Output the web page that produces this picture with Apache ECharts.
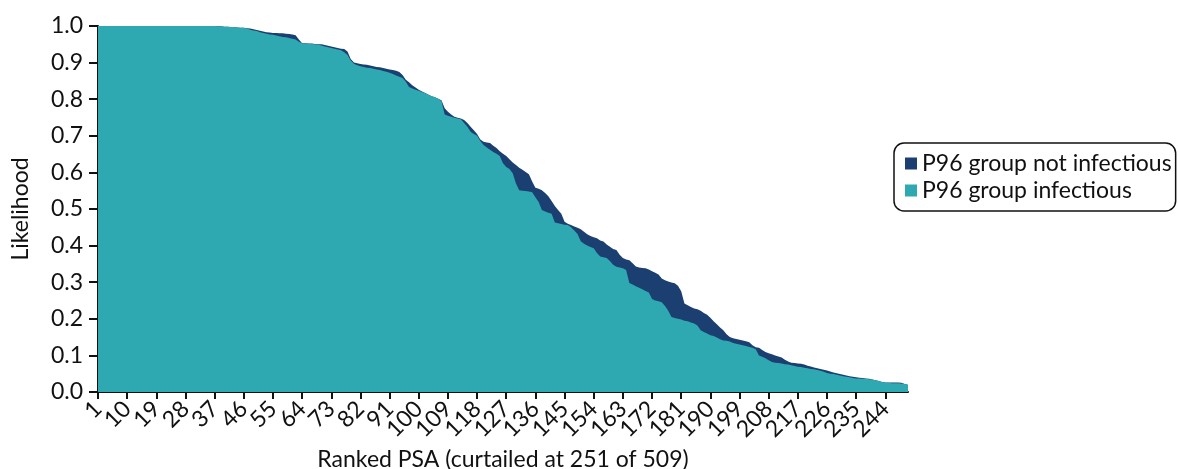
<!DOCTYPE html>
<html>
<head>
<meta charset="utf-8">
<script src="https://cdn.jsdelivr.net/npm/echarts@6/dist/echarts.min.js"></script>
<style>
  html, body { margin: 0; padding: 0; background: #fff; }
  #chart { width: 1178px; height: 469px; }
</style>
</head>
<body>
<div id="chart"></div>
<script>
// ranked PSA runs 1..251 (curtailed from 509)
const ranks = [];
for (let i = 1; i <= 251; i++) ranks.push(String(i));

const yTicks = [0, 0.1, 0.2, 0.3, 0.4, 0.5, 0.6, 0.7, 0.8, 0.9, 1.0];

// P96 group not infectious (upper curve)
const notInfectious = [
  1, 1, 1, 1, 1, 1, 1, 1, 1, 1,
  1, 1, 1, 1, 1, 1, 1, 1, 1, 1,
  1, 1, 1, 1, 1, 1, 1, 1, 1, 1,
  1, 1, 1, 1, 1, 1, 1,
  0.999, 0.999, 0.998, 0.998, 0.997, 0.997, 0.996, 0.995, 0.995,
  0.994, 0.993, 0.991, 0.989, 0.987, 0.985, 0.983, 0.982,
  0.981, 0.981, 0.980, 0.980, 0.979, 0.978, 0.977, 0.975, 0.963, 0.953,
  0.953, 0.952, 0.952, 0.951, 0.950, 0.950, 0.948, 0.946, 0.944,
  0.942, 0.940, 0.938, 0.937, 0.930, 0.910, 0.900, 0.898, 0.896,
  0.895, 0.894, 0.892, 0.890, 0.888, 0.887, 0.885, 0.883, 0.881,
  0.880, 0.878, 0.874, 0.866, 0.853, 0.846, 0.838, 0.832, 0.826,
  0.821, 0.817, 0.812, 0.808, 0.805, 0.801, 0.797, 0.775, 0.766,
  0.758, 0.752, 0.749, 0.747, 0.743, 0.735, 0.725, 0.715, 0.705,
  0.690, 0.684, 0.682, 0.680, 0.673, 0.667, 0.658, 0.651, 0.645,
  0.636, 0.627, 0.620, 0.613, 0.607, 0.601, 0.595, 0.575, 0.558,
  0.555, 0.551, 0.544, 0.535, 0.522, 0.508, 0.497, 0.487, 0.465,
  0.460, 0.456, 0.452, 0.449, 0.445, 0.438, 0.431, 0.426, 0.423,
  0.420, 0.414, 0.411, 0.403, 0.397, 0.391, 0.388, 0.375, 0.366,
  0.362, 0.360, 0.352, 0.343, 0.340, 0.339, 0.338, 0.335, 0.330,
  0.326, 0.321, 0.310, 0.305, 0.302, 0.299, 0.297, 0.290, 0.275,
  0.242, 0.237, 0.232, 0.228, 0.226, 0.222, 0.216, 0.211, 0.203,
  0.193, 0.185, 0.176, 0.169, 0.158, 0.150, 0.147, 0.145, 0.143,
  0.141, 0.139, 0.136, 0.128, 0.122, 0.121, 0.115, 0.109, 0.106,
  0.103, 0.100, 0.097, 0.094, 0.088, 0.083, 0.080, 0.079, 0.078,
  0.077, 0.075, 0.072, 0.070, 0.067, 0.065, 0.063, 0.061, 0.059,
  0.056, 0.053, 0.051, 0.049, 0.047, 0.045, 0.043, 0.042, 0.040,
  0.039, 0.038, 0.037, 0.036, 0.034, 0.032, 0.030, 0.027, 0.026,
  0.026, 0.026, 0.026, 0.026, 0.025, 0.022, 0.020
];

// P96 group infectious (lower curve)
const infectious = [
  1, 1, 1, 1, 1, 1, 1, 1, 1, 1,
  1, 1, 1, 1, 1, 1, 1, 1, 1, 1,
  1, 1, 1, 1, 1, 1, 1, 1, 1, 1,
  1, 1, 1, 1, 1, 1, 1,
  0.999, 0.999, 0.998, 0.998, 0.997, 0.997, 0.996, 0.995, 0.995,
  0.993, 0.990, 0.988, 0.986, 0.983, 0.981, 0.979, 0.977,
  0.976, 0.974, 0.972, 0.970, 0.969, 0.967, 0.965, 0.963, 0.957, 0.953,
  0.952, 0.951, 0.951, 0.950, 0.949, 0.947, 0.944, 0.942, 0.940,
  0.938, 0.936, 0.934, 0.928, 0.921, 0.906, 0.897, 0.893, 0.890,
  0.888, 0.886, 0.885, 0.883, 0.881, 0.880, 0.877, 0.875, 0.872,
  0.869, 0.865, 0.861, 0.858, 0.848, 0.833, 0.829, 0.826, 0.823,
  0.820, 0.816, 0.812, 0.808, 0.805, 0.801, 0.795, 0.758, 0.755,
  0.752, 0.749, 0.747, 0.745, 0.735, 0.725, 0.711, 0.705, 0.700,
  0.686, 0.675, 0.668, 0.662, 0.656, 0.651, 0.645, 0.625, 0.615,
  0.609, 0.598, 0.570, 0.551, 0.550, 0.549, 0.548, 0.546, 0.532,
  0.519, 0.497, 0.493, 0.490, 0.487, 0.463, 0.461, 0.459, 0.457,
  0.456, 0.450, 0.441, 0.432, 0.412, 0.405, 0.400, 0.396, 0.393,
  0.380, 0.370, 0.368, 0.366, 0.358, 0.348, 0.342, 0.340, 0.338,
  0.333, 0.298, 0.294, 0.289, 0.285, 0.281, 0.276, 0.272, 0.254,
  0.250, 0.248, 0.245, 0.235, 0.222, 0.205, 0.202, 0.200, 0.198,
  0.195, 0.193, 0.190, 0.187, 0.182, 0.169, 0.164, 0.160, 0.155,
  0.153, 0.149, 0.144, 0.141, 0.140, 0.138, 0.134, 0.132, 0.130,
  0.128, 0.126, 0.123, 0.121, 0.117, 0.100, 0.096, 0.092, 0.087,
  0.082, 0.080, 0.079, 0.078, 0.076, 0.075, 0.073, 0.071, 0.069,
  0.068, 0.066, 0.065, 0.063, 0.062, 0.060, 0.058, 0.055, 0.052,
  0.050, 0.049, 0.047, 0.045, 0.043, 0.042, 0.040, 0.038, 0.037,
  0.037, 0.036, 0.036, 0.035, 0.034, 0.032, 0.030, 0.027, 0.025,
  0.025, 0.024, 0.024, 0.024, 0.023, 0.022, 0.019
];

const chart = echarts.init(document.getElementById('chart'));
const font = 'Lato, "Noto Sans", sans-serif';
const labelEvery = 9;

const option = {
  animation: false,
  textStyle: { fontFamily: font },
  grid: { left: 98, right: 270, top: 26, bottom: 77, containLabel: false, outerBoundsMode: 'none' },
  legend: {
    orient: 'vertical',
    left: 894,
    top: 143,
    data: ['P96 group not infectious', 'P96 group infectious'],
    icon: 'rect',
    itemWidth: 12,
    itemHeight: 12,
    itemGap: 4,
    padding: [9, 4, 9, 11],
    borderColor: '#111',
    borderWidth: 1.5,
    borderRadius: 10,
    textStyle: { fontSize: 23, color: '#111', fontFamily: font }
  },
  xAxis: {
    type: 'category',
    data: ranks,
    boundaryGap: false,
    name: 'Ranked PSA (curtailed at 251 of 509)',
    nameLocation: 'middle',
    nameGap: 53,
    nameTextStyle: { fontSize: 23, color: '#111' },
    axisLine: { lineStyle: { color: '#111', width: 2 } },
    axisTick: {
      interval: i => i % labelEvery === 0,
      length: 7,
      lineStyle: { color: '#111', width: 2 }
    },
    axisLabel: {
      interval: 0,
      rotate: 45,
      fontSize: 23,
      color: '#111',
      margin: 13,
      hideOverlap: false,
      formatter: (v, i) => (i % labelEvery === 0 ? v : '')
    }
  },
  yAxis: {
    type: 'value',
    min: yTicks[0],
    max: yTicks[yTicks.length - 1],
    interval: 0.1,
    name: 'Likelihood',
    nameLocation: 'middle',
    nameGap: 66,
    nameTextStyle: { fontSize: 23, color: '#111' },
    splitLine: { show: false },
    axisLine: { show: true, lineStyle: { color: '#111', width: 2 } },
    axisTick: { show: true, length: 9, lineStyle: { color: '#111', width: 2 } },
    axisLabel: { fontSize: 23, color: '#111', margin: 15, formatter: v => v.toFixed(1) }
  },
  series: [
    {
      name: 'P96 group not infectious',
      type: 'line',
      data: notInfectious,
      showSymbol: false,
      itemStyle: { color: '#1b3f70' },
      lineStyle: { width: 0 },
      areaStyle: { color: '#1b3f70', opacity: 1 },
      z: 2
    },
    {
      name: 'P96 group infectious',
      type: 'line',
      data: infectious,
      showSymbol: false,
      itemStyle: { color: '#2ea9b1' },
      lineStyle: { width: 0 },
      areaStyle: { color: '#2ea9b1', opacity: 1 },
      z: 3
    }
  ]
};

chart.setOption(option);
</script>
</body>
</html>
